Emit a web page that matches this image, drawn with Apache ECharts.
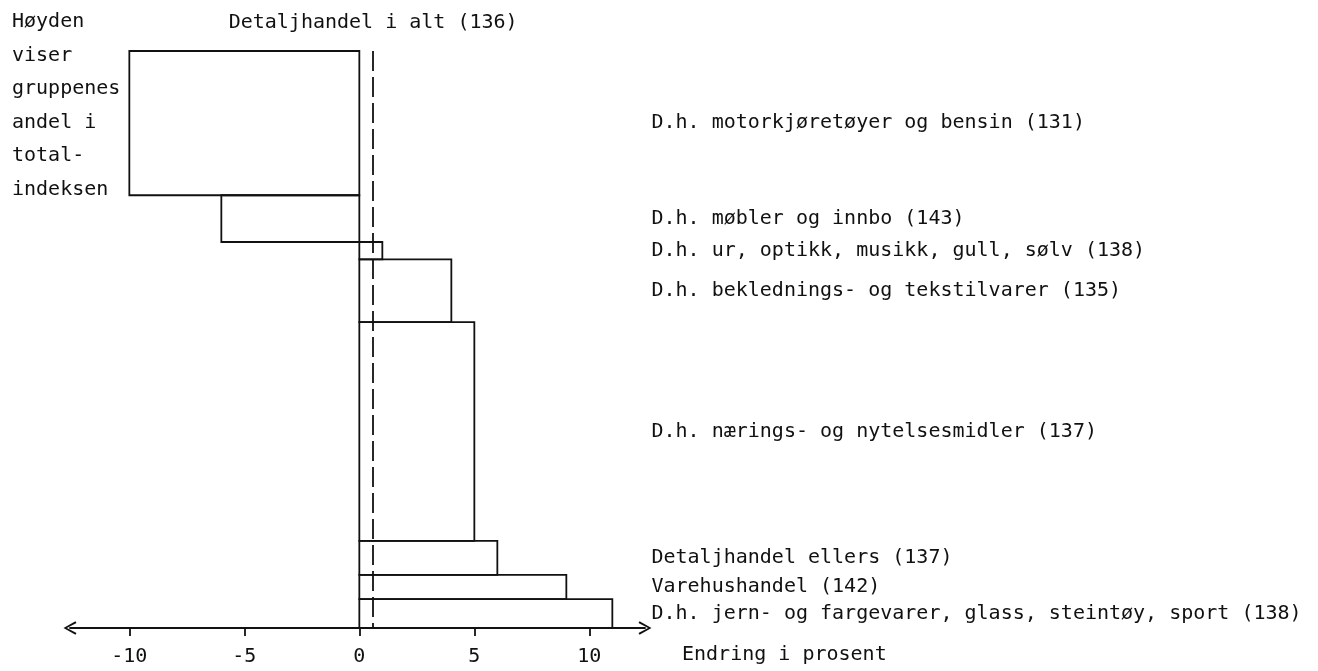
<!DOCTYPE html>
<html>
<head>
<meta charset="utf-8">
<script src="https://cdn.jsdelivr.net/npm/echarts@6/dist/echarts.min.js"></script>
<style>
  html, body { margin: 0; padding: 0; background: #fff; }
  #main { width: 1318px; height: 671px; }
</style>
</head>
<body>
<div id="main"></div>
<script>
// grupper i detaljhandelen, ovenfra og ned
const categories = [
  'D.h. motorkjøretøyer og bensin (131)',
  'D.h. møbler og innbo (143)',
  'D.h. ur, optikk, musikk, gull, sølv (138)',
  'D.h. beklednings- og tekstilvarer (135)',
  'D.h. nærings- og nytelsesmidler (137)',
  'Detaljhandel ellers (137)',
  'Varehushandel (142)',
  'D.h. jern- og fargevarer, glass, steintøy, sport (138)'
]
// høyden: gruppenes andel i totalindeksen (prosent)
const shares = [25.0, 8.1, 3.0, 10.9, 37.9, 5.9, 4.2, 5.0]
// endring i prosent
const changes = [-10.0, -6.0, 1.0, 4.0, 5.0, 6.0, 9.0, 11.0]
const totalName = 'Detaljhandel i alt (136)'
const totalChange = 0.6
const tickValues = [-10, -5, 0, 5, 10]

const FONT = '"DejaVu Sans Mono", monospace'
const INK = '#111'

// bygg [endring, start, slutt] fra andelene
let acc = 0
const barData = categories.map((name, i) => {
  const s = acc
  acc += shares[i]
  return [changes[i], s, acc, i]
})
const totalShare = acc

const chartDom = document.getElementById('main')
const myChart = echarts.init(chartDom)

const option = {
  animation: false,
  backgroundColor: '#fff',
  grid: { left: 70, right: 673, top: 51, bottom: 43, containLabel: false },
  xAxis: {
    type: 'value',
    min: -12.58,
    max: 12.42,
    axisLine: {
      onZero: false,
      lineStyle: { color: INK, width: 1.8 },
      symbol: ['path://M5,0 L10,9 L8.8,9.8 L5,2.6 L1.2,9.8 L0,9 Z', 'path://M5,0 L10,9 L8.8,9.8 L5,2.6 L1.2,9.8 L0,9 Z'],
      symbolSize: [14, 13]
    },
    axisTick: { customValues: tickValues, length: 8, lineStyle: { color: INK, width: 1.8 } },
    axisLabel: { customValues: tickValues, margin: 19, color: INK, fontFamily: FONT, fontSize: 20 },
    splitLine: { show: false }
  },
  yAxis: {
    type: 'value',
    inverse: true,
    min: 0,
    max: totalShare,
    show: false
  },
  graphic: [
    {
      type: 'text',
      left: 12,
      top: 5,
      style: {
        text: 'Høyden\nviser\ngruppenes\nandel i\ntotal-\nindeksen',
        font: '20px ' + FONT,
        lineHeight: 33.6,
        fill: INK
      }
    },
    {
      type: 'text',
      left: 682,
      top: 645,
      style: { text: 'Endring i prosent', font: '20px ' + FONT, fill: INK }
    }
  ],
  series: [
    {
      type: 'custom',
      clip: false,
      data: barData,
      renderItem: (params, api) => {
        const v = api.value(0)
        const y0 = api.value(1)
        const y1 = api.value(2)
        const p0 = api.coord([0, y0])
        const p1 = api.coord([v, y1])
        const lab = api.coord([12.7, (y0 + y1) / 2])
        return {
          type: 'group',
          children: [
            {
              type: 'rect',
              shape: {
                x: Math.min(p0[0], p1[0]),
                y: p0[1],
                width: Math.abs(p1[0] - p0[0]),
                height: p1[1] - p0[1]
              },
              style: { fill: 'rgba(255,255,255,0)', stroke: INK, lineWidth: 1.8 }
            },
            {
              type: 'text',
              x: lab[0],
              y: lab[1],
              style: {
                text: categories[api.value(3)],
                font: '20px ' + FONT,
                fill: INK,
                verticalAlign: 'middle',
                align: 'left'
              }
            }
          ]
        }
      },
      markLine: {
        silent: true,
        symbol: 'none',
        lineStyle: { color: INK, width: 1.8, type: [20, 6] },
        label: {
          show: true,
          position: 'start',
          distance: 18,
          formatter: totalName,
          color: INK,
          fontFamily: FONT,
          fontSize: 20
        },
        data: [{ xAxis: totalChange }]
      }
    }
  ]
}
option && myChart.setOption(option)
</script>
</body>
</html>
